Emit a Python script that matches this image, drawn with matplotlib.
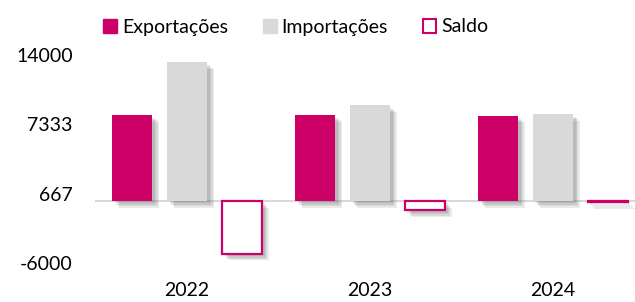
import matplotlib.pyplot as plt
import matplotlib.patches as mpatches
import matplotlib.patheffects as pe
import numpy as np

anos = ['2022', '2023', '2024']
exportacoes = [8240, 8240, 8180]
importacoes = [13330, 9150, 8340]
saldo = [-5090, -910, -160]
yticks = [-6000, 667, 7333, 14000]

magenta = '#CC0066'
cinza = '#D9D9D9'

plt.rcParams['font.family'] = ['Lato', 'DejaVu Sans']

fig = plt.figure(figsize=(6.35, 3.02), dpi=100)
ax = fig.add_axes([95/635, 1-263/302, 540/635, 208/302])

x = np.arange(len(anos))
w = 0.219
d = 0.30
# sombra suave: varias camadas deslocadas
sombra = [pe.SimplePatchShadow(offset=(k, -k), shadow_rgbFace='#606060', alpha=0.13)
          for k in (5, 4, 3, 2)] + [pe.Normal()]

ax.bar(x - d, exportacoes, w, color=magenta, path_effects=sombra, zorder=3)
ax.bar(x, importacoes, w, color=cinza, path_effects=sombra, zorder=3)
ax.bar(x + d, saldo, w, facecolor='white', edgecolor=magenta, linewidth=1.6,
       path_effects=sombra, zorder=3)

ax.axhline(0, color='#D9D9D9', linewidth=1.5, zorder=2)

ax.set_xlim(-0.503, 2.45)
ax.set_ylim(-6000, 14000)
ax.set_yticks(yticks)
ax.set_yticklabels([str(v) for v in yticks])
ax.set_xticks(x)
ax.set_xticklabels(anos)
ax.tick_params(axis='y', length=0, pad=16, labelsize=14)
ax.tick_params(axis='x', length=0, pad=14, labelsize=14)
for s in ax.spines.values():
    s.set_visible(False)

handles = [mpatches.Patch(facecolor=magenta, edgecolor=magenta),
           mpatches.Patch(facecolor=cinza, edgecolor=cinza),
           mpatches.Patch(facecolor='white', edgecolor=magenta, linewidth=1.5)]
fig.legend(handles, ['Exportações', 'Importações', 'Saldo'], loc='center',
           bbox_to_anchor=(0.466, 1-27/302), ncol=3, frameon=False, fontsize=14,
           handlelength=0.7, handleheight=0.7, handletextpad=0.25, columnspacing=1.8)

fig.savefig('out.png', dpi=100)
